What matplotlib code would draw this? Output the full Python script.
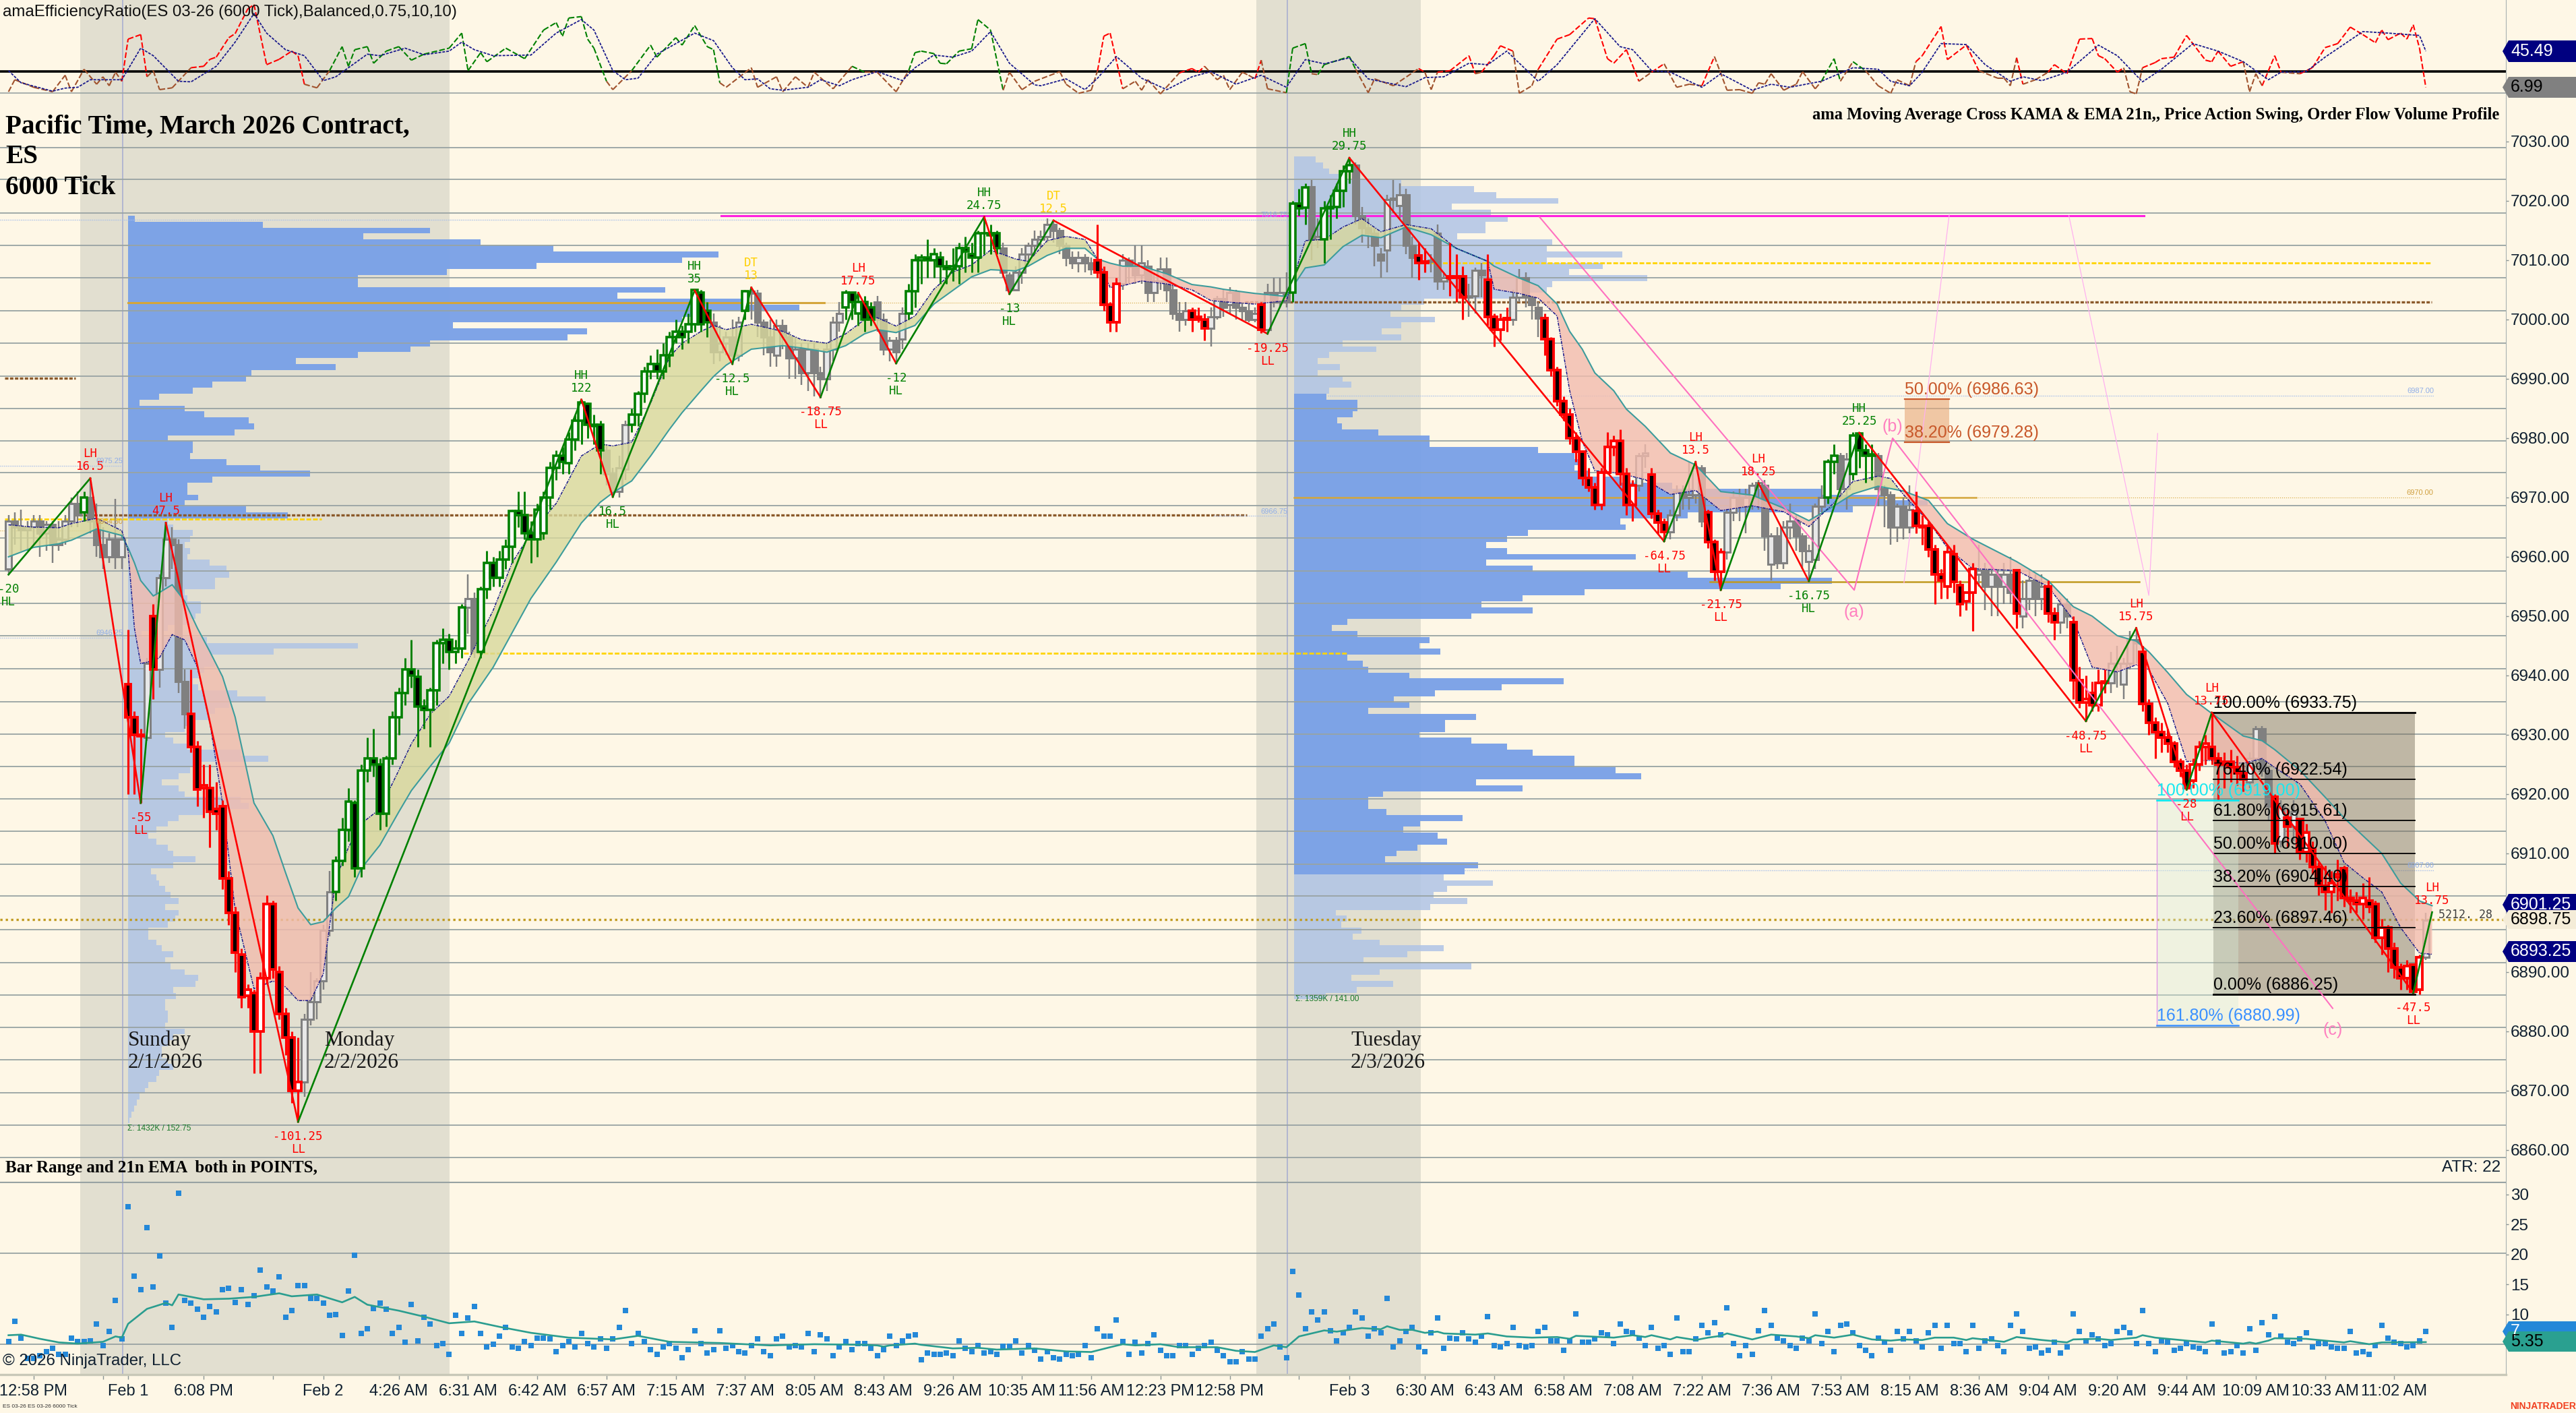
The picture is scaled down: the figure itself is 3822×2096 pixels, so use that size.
import numpy as np
import matplotlib
matplotlib.use('Agg')
import matplotlib.pyplot as plt
from matplotlib.patches import Polygon

plt.rcParams['font.family'] = ['Liberation Sans', 'DejaVu Sans']

# candles, one value per bar
bar_open = [
    6958,6966,6965,6964.5,6965,6966,6964,6965.5,6962,6963,
    6966,6969,6967.5,6970,6966,6962,6960,6963,6960,6938.5,
    6933,6930,6929.5,6950,6941,6956.5,6963,6962,6939,6933.5,
    6928,6921,6921,6917.5,6918,6905.75,6900,6893,6886,6886.5,
    6880,6889,6901.5,6890,6883,6879,6870,6871.5,6882,6885,
    6888.5,6897,6903.5,6908.75,6914,6918.5,6907.5,6924,6926,6925,
    6916.75,6926,6933,6937,6941,6939.75,6934.75,6934.25,6937.5,6945.5,
    6946,6944,6944.5,6951.5,6953,6944,6954.5,6959,6956.5,6959.5,
    6961.75,6967.75,6967,6964,6963,6964,6970,6975,6977,6975.75,
    6979.75,6983,6985.75,6982.25,6982.25,6978,6974,6971,6974.75,6982.25,
    6984,6987.5,6991.25,6992.5,6991.25,6994,6997,6998,6998,6999.25,
    7004.5,7001.5,6999.5,6994.5,6996,6997,6994,7001.5,7004.75,7004.4,
    6999.5,6997,6994,6999,6997,6993.5,6995,6991,6995,6991,
    6990,6995,6999.5,7002,7004.5,7001,7003,7002,7003,7000,
    6995,6996.5,6996.75,7001,7004.75,7010,7010.5,7010,7010.5,7009,
    7008.5,7009,7012,7011,7010.5,7014.5,7014.5,7014.5,7012,7007.5,
    7005,7008,7011,7012.5,7013.5,7014,7016,7015,7012.5,7010.5,
    7009.5,7010.5,7009.5,7010,7008,7002.5,6999.5,7006,7010,7009,
    7007.5,7009,7004.5,7006.5,7008.5,7005,7001,7000,7001.5,7000.5,
    7000,6998.5,7000.5,7003.5,7002.5,7004.5,7002,7001.5,7000,7002.5,
    6998.25,7004.5,7003,7004.5,7004.5,7019.5,7018.9,7022.4,7013.5,7013.5,
    7018.75,7019,7021.75,7025,7026,7017.5,7015.5,7014.5,7011,7011.75,
    7020.25,7019.25,7021,7012.5,7010.75,7009.5,7009.75,7014.5,7006.5,7007,
    7007.25,7007.25,7003.75,7004,7008.25,7006.75,7000.5,6998.25,7000,7000,
    7003.75,7007,7003.75,7002,7000.25,6996.75,6991.5,6986.25,6984,6980,
    6977.75,6973.25,6971.75,6968.75,6974.25,6978.5,6979.5,6974,6968.75,6972,
    6977,6973.9,6967.25,6965.75,6964.25,6967,6971,6970,6970.5,6975,
    6967.5,6962.5,6957.5,6960.75,6967.5,6970,6968.5,6970,6972,6972,
    6958.75,6963.5,6959,6965,6966,6963.5,6959.25,6959.5,6968.5,6970,
    6976,6977,6971.5,6974,6980.75,6978,6977,6977,6971.5,6970.5,
    6965,6968.5,6965,6967.75,6965.25,6965.25,6961.25,6957,6955,6960.5,
    6955.25,6952.5,6954,6957,6957.75,6955,6957,6955,6957,6957.7,
    6950,6953,6956,6953,6955,6950.5,6949,6952,6949,6939.25,
    6935.5,6937,6935,6938.75,6938.75,6942,6938.5,6942,6946,6944,
    6935.25,6932,6930.5,6929.5,6928.5,6925.5,6924,6922.25,6925,6928,
    6928,6926,6925,6925.5,6924.5,6923.5,6922,6926,6931,6924,
    6919.5,6912,6916,6914.5,6915.75,6910.25,6910.75,6907.75,6904.5,6903.5,
    6906,6907.5,6902.5,6902,6901.5,6902,6901.5,6895.75,6897.5,6894,
    6890.75,6889,6891.25,6887,6892.5]
bar_close = [
    6966,6965,6964.5,6965,6966,6964,6965.5,6962,6963,6966,
    6969,6967,6970,6966,6962,6960,6963,6960,6963,6933,
    6930,6929.75,6942,6941,6956.5,6963,6962,6939,6933.5,6928,
    6920.75,6921.5,6917,6916.75,6905.75,6900,6893.25,6885.75,6887,6880,
    6889,6901.5,6890.5,6883,6879,6870,6871.5,6882,6885,6888.5,
    6897,6903.5,6908.75,6914,6918.75,6907.5,6924,6926,6925,6916.75,
    6926,6933,6937,6941,6940,6934.75,6934.25,6937.5,6945.5,6946,
    6944,6944.5,6951.5,6953,6944,6954.5,6959,6956.5,6959.5,6961.75,
    6967.75,6967,6964,6963,6968,6970,6975,6977,6976,6979.75,
    6983,6986,6982.25,6982,6978,6974,6971,6975,6982.25,6984,
    6987.5,6991.25,6992.5,6991.25,6994,6997,6998,6997,6999.25,7005,
    6999.25,6999.5,6994.5,6996,6997,6994,6999.5,7004.75,7004.4,6999.5,
    6997,6994.5,6999,6997,6993.5,6995,6991,6995,6991,6990,
    6995,6999.5,7001,7004.5,7003,7003,7000,7000,7000,6995,
    6996.5,6994.5,7001,7004.75,7010,7010.5,7010,7011,7009,7008.5,
    7009,7012,7011.5,7010.5,7014.5,7014.5,7014.25,7012,7008,7005,
    7008,7011,7012.5,7013.5,7014,7016,7015,7012.5,7010.5,7009.5,
    7010.5,7009.5,7008.5,7008,7002.5,6999.5,7006,7010,7009,7007.5,
    7009.5,7004.5,7006.5,7008.5,7005,7001,7000,7001.5,7000,7000,
    6998.5,7000.5,7003.5,7002,7004.5,7002,7001.5,7000,7001,6998.25,
    7004.5,7003,7004.5,7003,7019.5,7018.75,7022.25,7013.5,7014,7018.75,
    7019,7021.75,7025,7026,7017.5,7015.5,7014.5,7012.5,7010,7020.25,
    7020.5,7021,7012.5,7010.5,7009.5,7009.75,7010,7006.5,7007,7007.25,
    7007,7003.75,7004,7008.25,7007.5,7000.5,6998.25,7000,7000.25,7003.75,
    7007,7003.75,7002.5,7000.25,6996.75,6991.5,6986.25,6984,6980,6977.75,
    6973.25,6971.75,6968.75,6974.25,6978.5,6979.5,6974,6968.75,6972,6977,
    6977.5,6967.25,6965.75,6964.25,6967,6971,6970,6970.5,6975,6966,
    6962.5,6957.5,6960.75,6967.5,6970,6968.5,6970,6972,6972.5,6963.5,
    6963.5,6959,6965,6966,6963.5,6961,6961,6968.5,6970,6976,
    6977,6971.5,6976.5,6980.5,6978,6977,6977.25,6971.5,6970.5,6965,
    6968.5,6965,6968,6965.25,6965,6961.25,6957,6956,6960.75,6955.75,
    6952,6954,6958,6957.75,6955,6957,6955,6957,6954,6950.4,
    6953,6956,6953,6955,6950.5,6949,6952,6950,6939.25,6935.5,
    6936,6935,6938.75,6939,6942,6942,6942,6946,6945.5,6935.25,
    6932,6930.5,6929.5,6928.5,6925.5,6924,6921,6925,6928,6928.5,
    6926,6925,6925.5,6924.5,6923.5,6922.5,6926,6931,6924,6918,
    6911.75,6918,6914.5,6917,6910.25,6913.5,6907.75,6904.5,6903.5,6905,
    6906.5,6902.5,6902,6901.5,6902.5,6901,6895.75,6897.5,6894,6890.75,
    6889,6891,6886.75,6892.5,6898.75]
bar_high = [
    6967,6967.5,6968,6966,6967,6967,6966,6966,6966,6967,
    6970,6971,6971,6973.25,6969,6965,6964,6969.75,6964,6947.75,
    6934,6931,6943,6952,6957,6965.75,6965,6963,6941,6941,
    6929,6925,6925,6922,6919,6907,6901,6894,6888,6887,
    6890,6903,6902,6891,6884,6880,6879,6883,6890,6889,
    6898,6907,6909.5,6916,6921,6919,6925,6929.5,6931,6926,
    6926.5,6934,6938,6943,6946,6941,6936,6938,6946,6948,
    6947,6946,6952,6957,6954,6955,6961,6960,6961,6963,
    6968,6971,6971,6966,6969,6971,6976,6978,6978.5,6981,
    6984,6986.5,6986,6984,6983,6979,6975,6977,6983,6985,
    6988,6992,6994,6995,6996,6998,7000,6999,7001,7005,
    7005,7003,7001,6999,6998,7000,7000.5,7005,7005.5,7005,
    7000,7000,7000,7000,6998,6997,6996,6996,6996,6992,
    6996,7000.5,7003,7005,7004.5,7004.5,7004,7003,7004,7001,
    6997,6997,7002,7006,7011,7011,7013.5,7012,7011.5,7010,
    7012,7013,7014,7013,7015,7017.25,7016,7015,7013,7008,
    7009,7012,7013,7015,7015,7017,7016.75,7015.5,7013,7011.5,
    7011.5,7011,7010.5,7016,7009,7003,7007,7011,7010.5,7012.5,
    7012.5,7010,7008,7010.5,7010.5,7006,7003,7003,7002,7002,
    7001,7002,7004,7005,7005.5,7005,7003,7003,7002,7003,
    7006,7007,7007,7008,7020,7022,7023,7023.5,7017,7020,
    7021,7023,7026,7027.25,7026.5,7019,7017,7015.5,7012,7021,
    7023.5,7023,7022,7014,7013,7012,7011,7016,7008,7013,
    7011,7009,7006,7008.75,7009.5,7011,7001,7001,7002,7005,
    7008.5,7008,7004,7003,7001,6997,6992,6987,6985,6981,
    6978,6975,6972.5,6975,6981,6980.5,6981.5,6975,6973,6977.5,
    6979,6975,6968,6966.5,6968,6972,6972,6976,6976,6975.5,
    6968,6963,6961.5,6968,6971,6971.5,6971.5,6972.5,6973,6973,
    6964,6965,6966,6969,6967,6964,6962,6969,6972,6976.5,
    6979,6977.5,6977.5,6981,6981,6979,6979,6977.5,6972,6971,
    6969,6970,6972,6971,6967,6966,6962,6958,6962,6962,
    6956,6954,6959,6962,6959,6958.5,6958,6959,6960,6958,
    6956,6958,6957,6957,6956,6951.5,6953,6953,6950,6941.5,
    6940,6939,6941,6941,6944,6945,6943,6947.5,6948,6945,
    6936,6933,6932,6931,6929,6926,6925,6926,6929,6930,
    6933.75,6927,6927,6927.5,6926.5,6925,6927,6931.5,6931.5,6924.5,
    6920,6919,6917.5,6919,6916,6915,6912,6908.5,6908,6907,
    6909,6908,6904,6903.5,6905,6906,6902,6899,6898,6895,
    6891.5,6892,6891.5,6893,6900]
bar_low = [
    6957,6962,6961,6961,6962,6960,6961,6959,6961,6962,
    6965,6965,6966,6964,6960,6958,6959,6958,6958,6920,
    6920,6918.5,6929,6936,6938,6955,6958,6937,6931,6927,
    6918,6916,6911,6914,6904,6898,6890,6884,6884,6873,
    6873,6888,6889,6882,6876,6868,6864.75,6869,6881,6882,
    6887,6896,6902,6908,6912,6906,6906,6922,6923,6914,
    6914.5,6925,6930,6935,6938,6928,6931,6928,6935,6942,
    6941,6942,6943,6947,6943,6943,6953,6955,6955,6958,
    6959,6965,6963,6959,6960,6963,6968,6973,6974,6974,
    6978,6979,6980,6979,6974,6972,6970,6970,6973,6981,
    6982,6986,6990,6990,6990,6992,6996,6995,6996,6998,
    6998,6997,6992.5,6993,6994,6992.5,6993,7000,7000,6997,
    6994,6992,6992,6995,6990,6990,6989,6988,6987,6986.75,
    6988,6993,6998,7000,7000,6999,6998,6999,6998,6994,
    6993,6992.5,6995,7000,7002,7006,7007,7007,7006,7006,
    7006.5,7006,7008,7008,7008,7011,7011,7011,7007,7004.25,
    7005,7006,7009,7011,7012,7013,7013,7011,7009,7008.5,
    7008,7008,7007.5,7007,7001.5,6998,6998,7005,7006,7006,
    7006,7003,7003,7005,7003,7000,6998,6999,6998,6999.5,
    6996.5,6995.5,7000,7000.5,7001,7000,7000,6999.5,6999.5,6997.75,
    6997.5,7002,7002,7002,7003,7017.5,7016,7010,7012,7009.5,
    7013.5,7017,7019,7023,7016,7013,7012,7009,7007,7008,
    7018,7017,7011,7007,7006.75,7008,7008,7005,7005,7004,
    7003,7000,7000.5,7001,7003.75,6999,6995.5,6996.5,6998,6999,
    7003,7002,7000,6997,6994,6990.5,6985.5,6983,6979,6976,
    6972,6971,6968,6968,6974,6977,6972,6967,6966,6971,
    6975,6966.5,6964,6962.6,6963,6966,6968,6968,6969,6965,
    6961.5,6956,6954.4,6959.5,6966,6966,6964,6968,6968,6961,
    6956,6958,6958,6963,6961,6958,6955.75,6958,6967.5,6969,
    6974,6970,6968,6973,6975,6972.5,6973,6968.5,6965,6962,
    6962.5,6963,6964,6964,6962,6960,6952,6953,6953,6954,
    6950,6951,6947.5,6955,6951,6950,6950,6952,6952,6948,
    6948,6951,6950,6951,6949,6946,6947,6948,6936,6934.5,
    6932.25,6934,6934,6937,6937,6938,6936,6941,6942,6934,
    6930,6926,6927,6927,6924.5,6923,6920.75,6921,6924,6925,
    6925,6919,6921,6922,6921.5,6920.5,6921,6925,6923,6915.5,
    6910,6911,6911,6912,6909,6908.5,6906.5,6903,6900.5,6900,
    6902,6901,6900,6900,6899,6900,6895,6893,6890,6889,
    6887,6887,6886.25,6886.25,6892]
# outline colour of each bar: n gray, g green, r red
bar_kind = ('n'*12 + 'g' + 'n'*6 + 'r'*3 + 'n' + 'r' + 'n'*5 + 'r'*18 + 'n'*5 + 'g'*21 + 'n'*2
            + 'g'*20 + 'n'*4 + 'g'*13 + 'n'*5 + 'g' + 'n'*15 + 'g'*5 + 'n'*5 + 'g'*15 + 'n'*15
            + 'r'*4 + 'n'*11 + 'r'*3 + 'n'*8 + 'r' + 'n'*4 + 'g'*3 + 'n'*2 + 'g'*5 + 'n'*10
            + 'rrn' + 'n'*2 + 'r'*3 + 'n'*3 + 'r'*4 + 'n'*5 + 'r'*15 + 'n'*2 + 'r'*3 + 'n'*6
            + 'r'*3 + 'n'*16 + 'g'*2 + 'n'*2 + 'g'*4 + 'n'*6 + 'r'*10 + 'n'*6 + 'r' + 'n'*4
            + 'r'*2 + 'n'*2 + 'r'*6 + 'n'*5 + 'r'*17 + 'n'*4 + 'r' + 'n' + 'r' + 'n' + 'r'*20 + 'n')

# swing points
swing_bars = [0,13,21,25,46,91,96,109,115,118,129,135,141,155,159,166,200,213,263,268,272,278,286,294,330,338,346,350,382,385]
swing_prices = [6957,6973.25,6918.5,6965.75,6864.75,6986.5,6970.1,7004.9,6992.5,7005.4,6986.9,7004.5,6992.6,7017.3,7004.3,
                7016.7,6997.6,7027.25,6962.6,6976,6954.4,6972.4,6955.9,6980.9,6932.3,6948,6920.75,6933.75,6886.5,6900.1]
swing_value = ['-20','16.5','-55','47.5','-101.25','122','16.5','35','-12.5','13','-18.75','17.75','-12','24.75','-13',
               '12.5','-19.25','29.75','-64.75','13.5','-21.75','18.25','-16.75','25.25','-48.75','15.75','-28','13.75','-47.5','13.75']
swing_name = ['HL','LH','LL','LH','LL','HH','HL','HH','HL','DT','LL','LH','HL','HH','HL',
              'DT','LL','HH','LL','LH','LL','LH','HL','HH','LL','LH','LL','LH','LL','LH']

# KAMA and EMA over the price bars
ma_bars = [0,4,8,10,14,18,19,20,21,23,24,26,28,30,32,34,36,39,42,44,46,48,50,52,54,56,59,62,64,67,70,73,77,80,83,87,91,94,96,99,
           102,105,107,110,112,114,118,123,126,130,133,136,138,141,144,147,150,153,156,160,162,165,168,171,173,175,177,180,184,188,
           191,193,198,203,206,209,212,215,218,222,226,230,235,236,240,243,246,248,250,252,255,257,260,264,268,272,277,282,286,290,
           293,297,299,301,305,308,312,319,324,328,331,335,338,340,343,346,350,355,358,360,364,368,371,374,377,380,383,385]
ema_vals = [6960,6961.6,6962.2,6962.8,6964.7,6963.6,6961.5,6959,6956,6953.4,6954,6955.3,6952.5,6948,6944,6939.8,6933,6918.5,6913,6906.8,
            6900.8,6898,6898.5,6900.8,6902.7,6907.4,6911.4,6917,6920.6,6924.7,6928.6,6935.2,6941.4,6947.2,6953,6959.1,6965.7,6969.2,6970.8,6972.8,
            6977,6981.5,6984.3,6988,6990.4,6992.3,6995,6995.6,6995.2,6994.5,6995.6,6997.6,6998.3,6997.8,6999,7002.6,7004.9,7007.2,7008.4,7008.2,
            7009,7010.8,7012,7012,7010.2,7009.5,7009,7009,7007.7,7005.9,7005.5,7005.1,7004.4,7003.9,7008.7,7009.2,7012.3,7014.2,7013.8,7015.6,
            7014.3,7012,7009.8,7009,7007,7005.7,7002.6,6998,6995,6991,6988,6984.9,6982,6977.5,6975.5,6971,6970.4,6968.2,6966.1,6968.6,
            6970.6,6971.9,6971.5,6971.1,6969.5,6965.6,6963,6959.2,6956,6951.6,6950,6946.7,6945.8,6944,6940.5,6936.8,6933.6,6929.8,6929,6927.5,
            6924,6919.5,6916,6913,6910,6905,6902,6901.2]
kama_vals = [6965.4,6965,6964.9,6965.6,6966.5,6964.4,6961,6948,6942,6942.5,6943,6946.9,6946,6941.4,6932,6918.5,6900.5,6887.2,6888.5,6887.5,
             6885.2,6885.2,6889.7,6905.8,6911,6915,6917.5,6924,6928.5,6933.5,6936.5,6942.5,6951,6959,6964,6969,6977,6979,6978.7,6979.3,
             6985.9,6993.7,6996,6998,6999,6998.3,6999.2,6998,6996.6,6996,6997.6,7000,7000.3,6998.9,7000.6,7005.1,7008,7009.2,7011.7,7010.2,
             7009.8,7013.3,7014,7013.5,7010.2,7005.4,7005.7,7006.5,7006,7005,7003.2,7003,7002.6,7003.2,7013.3,7013.5,7015.6,7017,7014.8,7016,
             7015.3,7012,7009.8,7005.1,7004.4,7003.6,7000.6,6988,6979.5,6974.5,6974.2,6973.8,6973,6970.5,6971.2,6967.8,6968.6,6967.6,6965.1,6969.1,
             6972.7,6973.6,6973.2,6970.5,6966,6961.5,6958,6957.7,6955,6949.4,6941.4,6940.6,6941.8,6941,6935.3,6925.5,6925.7,6925.2,6926,6924.5,
             6921.7,6915.5,6908.5,6905.9,6903.5,6897.5,6893.2,6893]

# volume profiles, row widths per one point of price, top row first
profile1_top = 7017
profile1_dark_to = 6967
profile1 = [10,200,448,349,523,631,876,822,606,473,341,341,797,726,921,996,863,822,482,681,
            652,448,419,341,249,308,183,175,125,96,46,17,84,113,179,187,158,59,96,96,
            92,146,196,270,125,88,88,104,84,175,237,59,67,96,92,84,92,88,121,146,
            150,129,129,84,88,108,108,100,92,59,20,117,341,216,125,129,113,104,96,104,
            162,204,150,129,121,96,84,55,67,88,167,208,108,92,75,50,75,84,167,179,
            113,75,59,42,30,42,59,67,100,67,34,42,46,55,63,75,55,75,70,59,
            30,30,42,50,67,55,63,84,104,100,67,71,55,55,59,59,55,84,67,59,
            50,50,59,67,46,42,30,25,17,13,9,5,2]
profile2_top = 7027
profile2_dark_from = 6987
profile2_dark_to = 6907
profile2 = [32,43,52,68,159,267,300,392,234,292,317,284,284,242,383,375,487,375,458,408,
            524,383,375,334,193,159,143,209,159,130,159,72,122,52,35,68,35,72,85,52,
            48,94,94,87,64,71,125,201,201,362,416,431,416,438,484,561,783,875,940,829,
            584,484,492,347,316,285,316,507,285,354,584,798,722,431,339,278,354,263,79,56,
            94,201,186,217,79,102,110,171,400,308,209,148,171,110,270,224,224,186,263,316,
            354,416,416,477,515,270,339,132,110,110,137,250,187,162,213,227,183,152,135,273,
            253,222,295,227,207,257,202,62,78,70,100,87,127,222,168,103,263,127,85,147,93,47]

# horizontal grid of the price panel
grid_prices = [7029,7023.6,7017.9,7012.5,7007,7001.5,6996,6990.5,6985,6979.5,6974.2,6968.6,6963.2,6957.6,6952.2,6946.7,6941.1,
               6935.6,6930.1,6924.7,6919.2,6913.75,6908.2,6902.8,6897.2,6891.6,6886.1,6880.7,6875.2,6869.7,6864.2,6858.7]
price_ticks = [7030,7020,7010,7000,6990,6980,6970,6960,6950,6940,6930,6920,6910,6900,6890,6880,6870,6860]

# fib levels
fib_levels = [6933.75,6922.54,6915.61,6910.00,6904.40,6897.46,6886.25]
fib_names = ['100.00%','76.40%','61.80%','50.00%','38.20%','23.60%','0.00%']

# efficiency ratio panel
er_bars = [0,1,4,7,9,10,12,14,15,16,17,18,19,21,22,23,24,26,29,31,32,33,35,36,38,39,41,43,45,46,47,49,51,53,54,55,57,58,60,62,64,66,70,72,73,75,76,79,82,85,87,88,89,91,92,93,95,96,99,102,103,106,107,109,111,112,113,114,118,119,122,123,125,127,128,131,134,136,
           138,141,143,144,145,147,148,149,151,153,154,156,158,159,161,163,167,168,170,172,173,174,175,177,179,180,181,183,186,188,189,190,192,193,194,196,197,198,199,200,203,204,206,207,208,209,213,214,216,217,220,224,225,226,227,229,232,233,234,236,237,239,240,242,243,246,248,251,252,254,255,257,259,261,263,265,267,269,271,273,275,277,
           278,279,280,282,284,285,287,288,290,291,293,295,297,299,300,302,303,304,307,308,311,313,316,317,318,319,320,322,324,325,327,329,331,332,333,335,336,337,338,339,341,342,344,346,349,350,351,353,355,356,357,358,360,361,364,366,368,370,372,374,376,377,378,380,381,382,383,384]
er_vals = [2.3,14.9,7,2.3,19.6,2.3,25.9,10.2,18,8.6,22.8,13.3,57.5,62.2,18,24.4,4.5,6.4,27.5,29,36.3,38.6,59,63.2,89,93.8,30.7,36.3,44.9,40.1,10.2,6.4,24.4,49.6,29,46.4,49.6,32.2,44.9,49.6,35.4,41.7,48,63.8,24.4,43.3,33.8,48,37,67,74.8,60.6,79.6,81.1,57.5,48,13.3,4.5,24.4,51.2,38.6,59,51.2,71.7,49.6,46.4,11.7,7,27.5,7,18,2.3,18,7,22.8,5.4,29,22.8,
           22.8,2.3,24.4,43.3,44.9,42.3,32.2,31.6,44.9,47.4,78,67,3.9,22.8,4.5,13.3,23.4,10.2,0.7,3.9,24.4,60.6,63.8,5.4,13.3,3.9,14.9,0.1,22.1,26.6,22.8,29,14.9,19.6,4.5,22.8,19.6,15.8,35.4,5.4,1.3,48,52.8,21.2,20.3,30.7,39.2,25.9,1.3,15.8,8.6,26.6,22.8,4.5,22.8,24.4,40.1,21.2,22.8,40.1,50.5,44.9,0.7,8.6,25.9,57.5,62.2,79.6,78.9,37,32.2,46.4,13.3,22.8,31.6,7,10.2,8.6,39.2,3.9,4.5,0.7,
           11.7,10.2,21.2,3.9,10.2,23.4,5.4,13.3,37,13.3,33.8,24.4,8.6,0.7,14.9,8.6,33.8,40.1,70.7,36,51.2,24.4,16.5,16.5,8.6,37.9,10.2,14.9,22.8,30.7,21.2,57.5,58.1,40.1,37,22.8,27.5,2.3,0.1,27.5,32.9,37,38.6,61.3,35.4,33.8,44.9,29,33.8,2.3,21.2,8.6,40.1,22.8,21.2,27.5,48.6,52.8,70.1,62.2,53.7,67,56.9,63.8,57.5,72.6,48,7]
er_signal_bars = [0,2,7,9,11,13,18,21,23,27,29,33,36,39,41,44,47,50,52,57,59,63,66,70,72,74,77,83,87,91,93,96,98,100,103,109,112,115,117,119,121,123,127,129,132,134,
                  138,142,144,147,150,153,156,159,163,164,168,171,173,176,180,184,188,191,195,199,203,206,209,213,216,222,225,228,232,235,238,243,246,252,256,258,261,264,269,272,277,
                  280,283,288,293,297,299,302,304,307,311,314,318,320,323,327,332,335,339,342,347,351,355,359,361,365,368,374,378,383,384]
er_signal_vals = [24.4,11.7,2.9,6.1,7,14.9,14.9,48,40.1,13.3,12.7,29,54.3,84.3,63.8,46.4,40.1,13.9,18,41.7,40.1,48,41.1,44.9,54.3,46.4,40.1,40.8,63.8,78,67,24.4,14.9,16.5,41.7,63.8,55.9,27.5,14.9,15.8,5.4,3.9,7,14.9,8.6,14.9,
                  23.4,14,27.5,40.8,38.6,44.9,65.4,32.2,9.5,8.6,15.8,4.5,16.5,39.2,16.5,4.5,18,23.4,10.2,19.6,7,36,31.6,37.9,15.8,7.6,17.1,18,32.2,30.7,44.9,13.3,30.7,78.9,49.6,46.4,24.4,22.8,7,21.2,3.9,
                  10.2,7,13.3,27.5,25.9,13.3,8.6,22.8,52.8,51.8,30.7,13.3,18,13.9,22.8,51.2,40.1,12.7,25.9,52.8,44.9,33.8,14.9,22.8,23.4,38.6,65.4,63.8,61.3,44.9]
er_level = 23.6
er_green_ranges = [(51,95),(99,113),(118,118),(134,138),(143,158),(204,207),(209,214),(288,291),(293,297)]

# bar range panel
range_vals = [5.4,8.8,6.0,2.6,2.6,3.1,3.8,4.3,3.3,3.3,
    6.0,5.4,5.5,5.6,8.4,4.8,7.1,12.3,5.9,28.0,
    16.4,14.1,24.5,14.6,19.7,11.9,7.8,30.2,12.3,11.9,
    10.9,9.5,11.3,10.4,14.1,14.3,12,14.1,11.6,13.1,
    17.4,14.6,13.9,16.2,9.5,10.6,14.8,14.8,12.6,12.6,
    11.9,9.8,10,6.5,13.9,19.9,6.8,7.6,11,11.9,
    10.8,6.8,7.8,5.3,11.6,5.6,9.5,8.4,4.8,5.1,
    3.3,9.8,6.8,9.4,11.3,6.8,4.6,5,6.3,7.8,
    4.6,4.3,5.4,4.8,6,6,5.9,3.8,4.8,5.4,
    4.6,6.8,5.1,4.6,5.9,4.3,5.9,7.8,10.6,5.1,
    6.8,5.4,4.1,3.3,4.6,5.1,4.3,2.8,4.1,7.3,
    5.1,3.5,4.1,7.3,4.3,4.8,3.8,3.5,4.8,5.9,
    3.8,3.1,5.9,6.3,4.6,4.8,4.6,6.8,3.8,6.6,
    5.9,3.1,4.6,5.4,4.1,5.1,5.1,4.3,
    3.1,4.1,6.3,4.8,5.6,6.3,6.6,2.4,3.5,3.3,3.3,3.5,3.1,5.6,4.3,3.8,4.8,3.5,3.8,3.3,4.7,4.7,5.6,3.5,4.8,4.0,2.5,3.8,2.8,2.5,
    3.3,3.1,3.3,4.8,2.8,7.6,6.3,6.3,9.1,5.4,3.3,5.3,3.5,5.1,6.6,4.0,3.1,3.1,4.8,4.8,3.3,4.3,4.8,5.3,4.0,3.1,2.1,2.1,3.8,2.5,
    2.5,6.3,7.6,8.4,4.6,2.8,17.2,13.2,7.6,10.4,9.1,10.4,7.3,5.6,6.9,7.8,10.4,9.4,6.3,7.6,6.9,12.6,4.6,5.6,7.1,7.8,
    4.6,3.8,6.9,9.4,4.3,6.0,5.9,6.9,5.9,5.3,6.3,9.6,4.8,4.6,5.1,7.8,4.8,4.6,4.8,7.1,7.8,5.6,5.6,4.0,5.6,10.1,5.3,5.3,5.9,6.9,
    6.6,5.1,8.4,7.1,6.9,6.0,4.8,7.8,4.3,4.8,3.3,9.4,3.8,3.8,5.9,8.1,6.9,8.6,6.6,11.1,5.1,3.1,4.8,3.3,7.3,10.6,8.1,6.0,5.6,4.8,
    4.3,6.0,5.6,10.1,5.1,7.1,3.8,8.1,8.4,6.9,4.8,4.0,3.1,6.0,5.3,4.0,7.1,5.9,7.1,5.6,4.6,6.9,8.1,4.3,8.1,
    5.1,5.1,3.8,8.1,4.3,5.6,5.9,4.8,3.8,8.1,10.1,7.1,4.3,4.6,3.5,4.0,5.3,3.5,4.6,10.1,7.1,5.6,6.6,5.9,4.8,5.1,7.1,7.8,6.9,5.1,
    10.6,5.1,3.8,5.6,5.3,4.0,4.3,5.1,4.6,4.3,3.8,8.4,5.3,3.5,3.8,4.8,3.5,7.6,4.0,8.6,6.6,9.6,6.3,5.3,5.1,5.9,6.9,4.6,5.1,5.1,
    4.6,4.3,4.3,7.1,3.5,3.8,3.3,4.8,8.1,6.0,5.3,5.1,4.6,4.8,5.6,7.1]
range_ema_bars = [0,2,5,8,11,15,17,18,19,22,25,26,27,31,35,39,43,45,49,53,55,57,62,66,70,74,78,83,89,96,100,105,113,121,128,136,
                  138,139,140,144,145,150,154,157,163,168,172,175,177,179,183,186,192,195,198,201,203,205,209,211,215,218,219,221,223,
                  225,227,228,233,235,238,242,246,248,249,255,258,260,261,264,265,268,270,272,273,275,277,280,284,286,287,290,293,296,299,301,304,306,309,
                  311,312,317,319,323,327,328,332,334,338,339,341,344,349,350,355,356,357,359,360,365,366,371,372,375,377,384]
range_ema_vals = [6.5,6.6,5.9,5.3,5.1,5.4,6.3,6.1,8.4,10.9,11.9,11.5,13.3,12.5,12.6,12.9,13.5,13,13.3,12,12.9,11.6,10.6,9.6,8.5,8.8,7.9,6.9,6.1,5.8,6.4,5.4,5.2,4.8,5,4.9,
                  4.8,4.6,4.8,5.1,4.9,4.3,4.4,4.1,4.3,3.8,3.7,4.5,5,4.8,5,4.5,4.5,3.9,3.7,4.8,4.5,6.3,7.3,7.1,7.7,7.5,8,7.4,7.4,
                  6.9,7.1,6.8,6.6,6.8,6.3,6.1,6.2,5.9,6.4,6.1,6.5,6.2,6.5,5.8,6.2,5.7,6.1,6.4,6.8,6.3,5.8,6.6,6.3,6,6.5,6.1,6.6,5.8,5.6,5.8,5.7,6.1,6.1,
                  5.7,6,5.4,6.2,5.7,5.3,5.8,5.9,5.7,6.1,6.5,6.1,5.8,5.3,5.6,5.1,5.3,5.1,5.6,6,5.9,5.8,5.3,5.5,5,5.3,5.35]
range_ticks = [10,15,20,25,30]

# time axis
time_tick_bars = [4,15,19,31,42,50,62,73,84,95,106,117,128,139,150,161,172,183,194,205,213,225,236,247,258,269,280,291,302,313,324,335,346,357,368,379]
time_labels = ['12:58 PM','','Feb 1','6:08 PM','','Feb 2','4:26 AM','6:31 AM','6:42 AM','6:57 AM','7:15 AM','7:37 AM','8:05 AM','8:43 AM',
               '9:26 AM','10:35 AM','11:56 AM','12:23 PM','12:58 PM','','Feb 3','6:30 AM','6:43 AM','6:58 AM','7:08 AM','7:22 AM','7:36 AM',
               '7:53 AM','8:15 AM','8:36 AM','9:04 AM','9:20 AM','9:44 AM','10:09 AM','10:33 AM','11:02 AM']

# layout in pixels of the 3823x2096 picture
W, H = 3823, 2096
AX_RIGHT = 3718
BG = '#fef7e6'
SHADE = '#e2dfd0'
GRID = '#98a3a3'
BAR_PX = 9.34
X_LEFT = -12.6 / BAR_PX
X_RIGHT = (AX_RIGHT - 12.6) / BAR_PX

fig = plt.figure(figsize=(W / 100, H / 100), dpi=100, facecolor=BG)


def add_panel(y0, y1):
    ax = fig.add_axes([0, 1 - y1 / H, AX_RIGHT / W, (y1 - y0) / H], facecolor='none')
    ax.set_xlim(X_LEFT, X_RIGHT)
    for side in ['top', 'left', 'bottom']:
        ax.spines[side].set_visible(False)
    ax.spines['right'].set_color('#a8b0b0')
    ax.spines['right'].set_linewidth(0.8)
    ax.set_xticks([])
    ax.set_yticks([])
    ax.axvspan(11.4, 70.1, color=SHADE, lw=0, zorder=0)
    ax.axvspan(198.2, 224.4, color=SHADE, lw=0, zorder=0)
    ax.axvline(18.1, color='#a9aed0', lw=1.2, zorder=1)
    ax.axvline(203.2, color='#a9aed0', lw=1.2, zorder=1)
    return ax


ax_er = add_panel(0, 146)
ax = add_panel(146, 1755)
ax_low = add_panel(1755, 2039)
ax_er.set_ylim(-4.7, 98.5)
ax.set_ylim(6854.43, 7037.27)
ax_low.set_ylim(-0.07, 31.9)

# efficiency ratio
ax_er.axhline(1, color=GRID, lw=1.2, zorder=1)
ax_er.axhline(er_level, color='black', lw=2.6, zorder=2)
for k in range(len(er_bars) - 1):
    b0, b1 = er_bars[k], er_bars[k + 1]
    v0, v1 = er_vals[k], er_vals[k + 1]
    if (v0 + v1) / 2 < er_level:
        col = '#a0522d'
    elif any(lo <= b0 < hi or lo <= b1 <= hi for lo, hi in er_green_ranges):
        col = '#008000'
    else:
        col = '#ff0000'
    ax_er.plot([b0, b1], [v0, v1], color=col, lw=1.5, ls=(0, (4, 1.6)), zorder=3)
ax_er.plot(er_signal_bars, er_signal_vals, color='#1a1a8c', lw=1.3, ls=(0, (2.2, 1)), zorder=4)

# price grid
for gp in grid_prices:
    ax.axhline(gp, color=GRID, lw=1.3, zorder=1.5)
ax.axhline(6854.5, color=GRID, lw=1.6, zorder=1.5)

# volume profiles
rows1 = profile1_top - np.arange(len(profile1))
rows2 = profile2_top - np.arange(len(profile2))
w1 = np.array(profile1) / BAR_PX
w2 = np.array(profile2) / BAR_PX
dark1 = rows1 >= profile1_dark_to
dark2 = (rows2 <= profile2_dark_from) & (rows2 >= profile2_dark_to)
ax.barh(rows1[dark1], w1[dark1], left=19.0, height=1, color='#78a0e8', alpha=0.95, lw=0, zorder=1)
ax.barh(rows1[~dark1], w1[~dark1], left=19.0, height=1, color='#b0c4e6', alpha=0.85, lw=0, zorder=1)
ax.barh(rows2[dark2], w2[dark2], left=204.2, height=1, color='#78a0e8', alpha=0.95, lw=0, zorder=1)
ax.barh(rows2[~dark2], w2[~dark2], left=204.2, height=1, color='#b0c4e6', alpha=0.85, lw=0, zorder=1)

# level lines
ax.plot([113.2, 339.2], [7017.5, 7017.5], color='#ff20e0', lw=2.2, zorder=2)
ax.plot([225.7, 384.9], [7009.5, 7009.5], color='#ffd400', lw=2, ls=(0, (2.5, 1)), zorder=2)
ax.plot([196.4, 384.9], [7003, 7003], color='#8b5a2b', lw=2.4, ls=(0, (1.5, 0.7)), zorder=2)
ax.plot([-0.6, 10.6], [6990.1, 6990.1], color='#8b5a2b', lw=2.4, ls=(0, (1.5, 0.7)), zorder=2)
ax.plot([10.4, 196.7], [6967, 6967], color='#8b5a2b', lw=2.4, ls=(0, (1.5, 0.7)), zorder=2)
ax.plot([-0.6, 49.7], [6966.4, 6966.4], color='#ffd400', lw=2, ls=(0, (2.5, 1)), zorder=2)
ax.plot([72.3, 212.7], [6943.7, 6943.7], color='#ffd400', lw=2, ls=(0, (2.5, 1)), zorder=2)
ax.plot([19, 129.6], [7002.8, 7002.8], color='#d4a53a', lw=2.2, zorder=2)
ax.plot([129.6, 203], [7002.8, 7002.8], color='#d4a53a', lw=0.8, ls=':', zorder=2)
ax.plot([204.2, 312.6], [6970, 6970], color='#d4a53a', lw=1.8, zorder=2)
ax.plot([312.6, 383], [6970, 6970], color='#d4a53a', lw=0.8, ls=':', zorder=2)
ax.plot([270.3, 338.5], [6955.8, 6955.8], color='#c09a20', lw=1.8, zorder=2)
ax.plot([X_LEFT, 18], [6964.4, 6964.4], color='#d4a53a', lw=0.8, ls=':', zorder=2)
ax.plot([X_LEFT, X_RIGHT], [6898.9, 6898.9], color='#c09a20', lw=2.4, ls=(0, (1, 1.4)), zorder=2)
for lvl, b0, b1 in [(7016.8, X_LEFT, 204.2), (6975.3, X_LEFT, 18), (6946.4, X_LEFT, 19),
                    (6987.1, 209.6, 385.3), (6907.2, 231.3, 385.3), (6966.9, 191.4, 203.3)]:
    ax.plot([b0, b1], [lvl, lvl], color='#a9c0ea', lw=1, ls=(0, (1, 1)), zorder=2)

# fib boxes
ax.fill_between([350.3, 382.3], 6886.25, 6933.75, color='#7a6f5c', alpha=0.47, lw=0, zorder=2.5)
ax.fill_between([341.3, 354.2], 6880.99, 6919, color='#d8ecd8', alpha=0.38, lw=0, zorder=2.6)
ax.fill_between([301.2, 308.3], 6979.28, 6986.63, color='#e8a878', alpha=0.6, lw=0, zorder=2.5)
ax.plot([341.3, 341.3], [6880.99, 6919], color='#e090e8', lw=0.9, zorder=2.6)

# candles, gray ones under the moving average band
o, c, h, l = [np.array(v, dtype=float) for v in (bar_open, bar_close, bar_high, bar_low)]
bars = np.arange(len(o))
kind = np.array(list(bar_kind))
body_low = np.minimum(o, c)
body_size = np.abs(c - o)
up = c >= o


def draw_candles(mask, edge, up_fill, down_fill, lw, z):
    ax.vlines(bars[mask], l[mask], h[mask], color=edge, lw=lw * 0.8, zorder=z)
    fills = np.where(up[mask], up_fill, down_fill)
    ax.bar(bars[mask], body_size[mask], bottom=body_low[mask], width=0.95, color=fills,
           edgecolor=edge, linewidth=lw, zorder=z)


draw_candles(kind == 'n', '#808080', '#e8e8e8', '#808080', 2.2, 3)

# band between KAMA and EMA
ma_x = np.array(ma_bars)
ema = np.array(ema_vals)
kama = np.array(kama_vals)
ax.fill_between(ma_x, kama, ema, where=kama >= ema, interpolate=True, color='#d8d89c', alpha=0.8, lw=0, zorder=4)
ax.fill_between(ma_x, kama, ema, where=kama <= ema, interpolate=True, color='#f2bcae', alpha=0.8, lw=0, zorder=4)
ax.plot(ma_x, ema, color='#3c9c9c', lw=1.5, zorder=4.2)
ax.plot(ma_x, kama, color='#1a1a8c', lw=1.1, ls=(0, (3, 1, 1, 1)), zorder=4.2)

draw_candles(kind == 'g', '#008000', 'white', 'black', 2.6, 5)
draw_candles(kind == 'r', '#ff0000', 'white', 'black', 2.8, 5)

# fib lines and labels stay above the candles
for lvl, name in zip(fib_levels, fib_names):
    lw = 2.0 if lvl in (6933.75, 6886.25) else 1.3
    ax.plot([350.3, 382.3], [lvl, lvl], color='black', lw=lw, zorder=5.5)
    ax.annotate(f'{name} ({lvl:.2f})', xy=(350.3, lvl), xytext=(0, 2), textcoords='offset pixels',
                fontsize=18, color='black', ha='left', va='bottom', zorder=7)
ax.plot([341.3, 354.2], [6919, 6919], color='#00e8f0', lw=1.8, zorder=5.6)
ax.plot([341.3, 354.2], [6880.99, 6880.99], color='#3a90ff', lw=1.8, zorder=5.6)
ax.annotate('100.00% (6919.00)', xy=(341.3, 6919), xytext=(0, 2), textcoords='offset pixels',
            fontsize=18, color='#18e8f0', ha='left', va='bottom', zorder=7)
ax.annotate('161.80% (6880.99)', xy=(341.3, 6880.99), xytext=(0, 2), textcoords='offset pixels',
            fontsize=18, color='#3a90ff', ha='left', va='bottom', zorder=7)
for lvl, txt in [(6986.63, '50.00% (6986.63)'), (6979.28, '38.20% (6979.28)')]:
    ax.plot([301.2, 308.3], [lvl, lvl], color='#c8582a', lw=1.6, zorder=5.6)
    ax.annotate(txt, xy=(301.2, lvl), xytext=(0, 2), textcoords='offset pixels',
                fontsize=18, color='#c8582a', ha='left', va='bottom', zorder=7)

# pink wave lines
ax.plot([243.2, 293.2, 299.3, 369.2], [7017.3, 6954.4, 6980, 6883.9], color='#ff70c0', lw=1.5, zorder=5.8)
ax.plot([308.3, 301.1], [7017.7, 6955.6], color='#ffb0f0', lw=0.9, zorder=2.6)
ax.plot([327.3, 340, 341.4], [7017.5, 6953.5, 6980.8], color='#ffb0f0', lw=0.9, zorder=2.6)

# swing zigzag and labels
for k in range(len(swing_bars) - 1):
    col = '#008000' if swing_prices[k + 1] > swing_prices[k] else '#ff0000'
    ax.plot(swing_bars[k:k + 2], swing_prices[k:k + 2], color=col, lw=1.9, zorder=6)
for b, p, val, name in zip(swing_bars, swing_prices, swing_value, swing_name):
    col = {'HH': '#008000', 'HL': '#008000', 'DT': '#ffd000'}.get(name, '#ff0000')
    is_high = name in ('HH', 'LH', 'DT')
    dy_val, dy_name = (17, 36) if is_high else (-22, -41)
    for txt, dy in ((val, dy_val), (name, dy_name)):
        ax.annotate(txt, xy=(b, p), xytext=(0, dy), textcoords='offset pixels', fontsize=12.5,
                    family='DejaVu Sans Mono', color=col, ha='center', va='center', zorder=7)

# price axis
ax.yaxis.tick_right()
ax.set_yticks(price_ticks)
ax.set_yticklabels([f'{v:.2f}' for v in price_ticks], fontsize=17.5, color='#102030')
ax.tick_params(axis='y', length=3, width=1, pad=2, color='#8a9494')

# bar range panel
ax_low.axhline(20.2, color=GRID, lw=1.3, zorder=1.5)
ax_low.axhline(5.05, color=GRID, lw=1.3, zorder=1.5)
ax_low.plot(bars, range_vals, ls='none', marker='s', ms=5.8, color='#2488d8', mew=0, zorder=3)
ax_low.plot(range_ema_bars, range_ema_vals, color='#2a9d8f', lw=1.9, zorder=4)
ax_low.yaxis.tick_right()
ax_low.set_yticks(range_ticks)
ax_low.set_yticklabels([str(v) for v in range_ticks], fontsize=17.5, color='#102030')
ax_low.tick_params(axis='y', length=3, width=1, pad=2, color='#8a9494')
ax_low.set_xticks(time_tick_bars)
ax_low.set_xticklabels(time_labels, fontsize=17, color='#102030')
ax_low.tick_params(axis='x', length=5, width=1, pad=5, color='#8a9494')
ax_low.spines['bottom'].set_visible(True)
ax_low.spines['bottom'].set_color('#c8c8b8')
ax_low.spines['bottom'].set_linewidth(2.4)

# overlay in picture pixels for captions and value tags
ov = fig.add_axes([0, 0, 1, 1], facecolor='none', zorder=10)
ov.set_xlim(0, W)
ov.set_ylim(H, 0)
ov.axis('off')

SERIF = 'Liberation Serif'
ov.text(4, 18, 'amaEfficiencyRatio(ES 03-26 (6000 Tick),Balanced,0.75,10,10)', fontsize=17.3, va='center', color='#101010')
for yy, txt in [(188, 'Pacific Time, March 2026 Contract,'), (233, 'ES'), (278, '6000 Tick')]:
    ov.text(8, yy, txt, fontsize=28.3, family=SERIF, weight='bold', va='center', color='black')
ov.text(3708, 170, 'ama Moving Average Cross KAMA & EMA 21n,, Price Action Swing, Order Flow Volume Profile',
        fontsize=17.7, family=SERIF, weight='bold', ha='right', va='center', color='black')
ov.text(8, 1732, 'Bar Range and 21n EMA  both in POINTS,', fontsize=18, family=SERIF, weight='bold', va='center', color='black')
for xx, day, date in [(190, 'Sunday', '2/1/2026'), (481, 'Monday', '2/2/2026'), (2004, 'Tuesday', '2/3/2026')]:
    ov.text(xx, 1543, day, fontsize=22.5, family=SERIF, va='center', color='#181818')
    ov.text(xx, 1577, date, fontsize=22.5, family=SERIF, va='center', color='#181818')
ov.text(3710, 1732, 'ATR: 22', fontsize=17.5, ha='right', va='center', color='#102030')
ov.text(4, 2019, '\u00a9 2026 NinjaTrader, LLC', fontsize=17.3, va='center', color='#102030')
ov.text(4, 2087, 'ES 03-26 ES 03-26 6000 Tick', fontsize=6, va='center', color='#303030')
ov.text(3822, 2086, 'NINJATRADER', fontsize=10, weight='bold', ha='right', va='center', color='#f04020')
ov.text(236, 1674, '\u03a3: 1432K / 152.75', fontsize=8.6, ha='center', va='center', color='#1a7a2a')
ov.text(1922, 1482, '\u03a3: 1359K / 141.00', fontsize=8.6, va='center', color='#1a7a2a')
ov.text(3658, 1357, '5212. 28', fontsize=12, ha='center', va='center', family='DejaVu Sans Mono', color='#404040')
for xx, yy, txt in [(2751, 908, '(a)'), (2808, 633, '(b)'), (3461, 1528, '(c)')]:
    ov.text(xx, yy, txt, fontsize=18, ha='center', va='center', color='#ff80c0')
for xx, yy, txt in [(162, 684, '6975.25'), (162, 939, '6946.25'), (1890, 319, '7016.75'), (1890, 759, '6966.75'),
                    (3591, 580, '6987.00'), (3591, 1284, '6907.00'), (3590, 731, '6970.00')]:
    col = '#d0a040' if txt == '6970.00' else '#90aee8'
    ov.text(xx, yy, txt, fontsize=8, ha='center', va='center', color=col)
ov.text(162, 774, '6964.50', fontsize=8, ha='center', va='center', color='#d0a040')


def value_tag(y0, y1, text, bg, fg):
    ym = (y0 + y1) / 2
    pts = [(3722, y0), (W, y0), (W, y1), (3722, y1), (3713, ym)]
    ov.add_patch(Polygon(pts, closed=True, facecolor=bg, edgecolor='none'))
    ov.text(3725, ym, text, fontsize=18, color=fg, va='center')


value_tag(60, 92, '45.49', '#000080', 'white')
value_tag(114, 145, '6.99', '#808080', 'black')
value_tag(1326, 1358, '6901.25', '#000080', 'white')
value_tag(1350, 1378, '6898.75', '#f4ecd8', 'black')
value_tag(1396, 1427, '6893.25', '#000080', 'white')
value_tag(1960, 1990, '7', '#2488d8', 'white')
value_tag(1975, 2005, '5.35', '#2aa090', 'black')

fig.savefig('out.png', dpi=100, facecolor=BG)
